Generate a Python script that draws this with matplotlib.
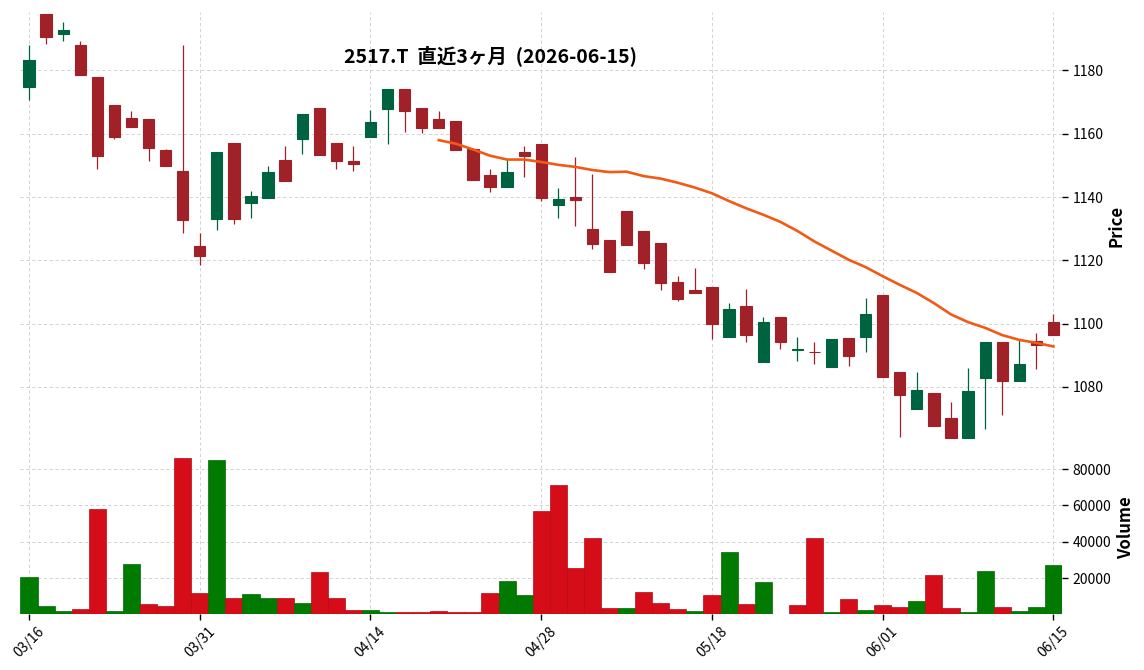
import matplotlib
matplotlib.use("Agg")
import matplotlib.pyplot as plt
from matplotlib.ticker import MultipleLocator
import numpy as np
import pandas as pd

plt.rcParams['font.family'] = ['Noto Sans CJK JP', 'DejaVu Sans']

title = "2517.T  直近3ヶ月  (2026-06-15)"

dates = ["03/16", "03/17", "03/18", "03/19", "03/23", "03/24", "03/25", "03/26", "03/27", "03/30",
         "03/31", "04/01", "04/02", "04/03", "04/06", "04/07", "04/08", "04/09", "04/10", "04/13",
         "04/14", "04/15", "04/16", "04/17", "04/20", "04/21", "04/22", "04/23", "04/24", "04/27",
         "04/28", "04/30", "05/01", "05/07", "05/08", "05/11", "05/12", "05/13", "05/14", "05/15",
         "05/18", "05/19", "05/20", "05/21", "05/22", "05/25", "05/26", "05/27", "05/28", "05/29",
         "06/01", "06/02", "06/03", "06/04", "06/05", "06/08", "06/09", "06/10", "06/11", "06/12",
         "06/15"]

opens = [1174.8, 1197.8, 1191.6, 1188.0, 1177.9, 1169.0, 1165.0, 1164.6, 1154.8, 1148.2,
         1124.5, 1133.0, 1157.0, 1138.2, 1139.7, 1151.7, 1158.4, 1168.1, 1157.0, 1151.4,
         1159.0, 1167.9, 1174.1, 1168.1, 1164.6, 1164.0, 1155.2, 1147.0, 1143.3, 1154.2,
         1156.7, 1137.4, 1140.0, 1129.9, 1126.4, 1135.6, 1129.3, 1125.5, 1113.2, 1110.6,
         1111.6, 1095.9, 1105.6, 1088.0, 1102.1, 1091.7, 1091.1, 1086.4, 1095.5, 1095.9,
         1109.2, 1084.7, 1073.0, 1078.1, 1070.2, 1063.9, 1082.9, 1094.2, 1081.9, 1094.5,
         1100.6]
highs = [1188.0, 1197.8, 1195.2, 1189.2, 1177.9, 1169.0, 1167.2, 1164.6, 1155.2, 1188.0,
         1128.5, 1154.2, 1157.0, 1141.8, 1149.8, 1156.1, 1166.2, 1168.1, 1157.0, 1156.1,
         1167.5, 1174.1, 1174.1, 1168.1, 1167.2, 1164.0, 1155.2, 1149.0, 1151.7, 1156.1,
         1156.7, 1142.7, 1152.5, 1147.2, 1126.4, 1135.6, 1129.3, 1125.5, 1115.0, 1117.5,
         1111.6, 1106.4, 1111.0, 1102.0, 1102.1, 1095.9, 1094.1, 1095.2, 1095.5, 1108.0,
         1109.2, 1084.7, 1084.6, 1078.1, 1075.2, 1086.0, 1094.2, 1094.2, 1095.0, 1096.9,
         1103.0]
lows = [1170.8, 1188.2, 1189.2, 1178.5, 1149.0, 1158.2, 1162.0, 1151.5, 1149.9, 1128.5,
        1118.5, 1129.5, 1131.4, 1133.3, 1139.7, 1145.1, 1153.5, 1153.3, 1149.0, 1148.1,
        1159.0, 1156.6, 1160.4, 1160.2, 1161.7, 1155.0, 1145.5, 1141.7, 1143.3, 1146.3,
        1138.6, 1133.3, 1130.7, 1123.7, 1116.4, 1124.9, 1117.4, 1110.5, 1107.0, 1109.8,
        1095.0, 1095.9, 1094.2, 1088.0, 1091.9, 1088.2, 1087.2, 1086.4, 1086.5, 1090.9,
        1083.2, 1064.3, 1073.0, 1067.8, 1063.9, 1063.9, 1066.6, 1071.0, 1081.9, 1085.6,
        1096.4]
closes = [1183.3, 1190.6, 1192.7, 1178.5, 1153.0, 1159.0, 1162.0, 1155.6, 1149.9, 1132.8,
          1121.5, 1154.2, 1133.0, 1140.3, 1147.9, 1145.1, 1166.2, 1153.3, 1151.5, 1150.4,
          1163.7, 1174.1, 1167.3, 1161.9, 1161.7, 1155.0, 1145.5, 1143.3, 1147.9, 1153.1,
          1139.7, 1139.4, 1139.2, 1125.3, 1116.4, 1124.9, 1119.3, 1112.9, 1107.9, 1109.8,
          1100.0, 1104.6, 1096.5, 1100.5, 1094.3, 1091.9, 1090.9, 1095.2, 1089.8, 1103.1,
          1083.2, 1077.3, 1079.0, 1067.8, 1063.9, 1078.7, 1094.2, 1082.0, 1087.3, 1093.1,
          1096.4]
volumes = [20700, 4900, 2200, 3300, 57800, 2200, 27800, 6000, 4900, 86200,
           12000, 85100, 9300, 11500, 9300, 9300, 6500, 23500, 9300, 2700,
           2700, 1600, 1450, 1450, 2200, 1450, 1450, 12000, 18500, 10900,
           56700, 71400, 25600, 42000, 3800, 3800, 12500, 6500, 3300, 2200,
           10900, 34400, 6000, 18000, np.nan, 5450, 42000, 1450, 8700, 2700,
           5450, 4400, 7600, 21800, 3800, 1450, 24000, 4400, 2200, 4400,
           27300]

mav_window = 25

up_c, down_c = '#006340', '#a02128'
vup_c, vdown_c = '#007a00', '#d50d18'

o = np.array(opens); h = np.array(highs); l = np.array(lows); c = np.array(closes)
v = np.array(volumes, dtype=float)
x = np.arange(len(dates))

fig = plt.figure(figsize=(11.44, 6.70), dpi=100)
ax = fig.add_axes([0.0179, 0.3433, 0.9104, 0.6388])
axv = fig.add_axes([0.0179, 0.0836, 0.9104, 0.2567], sharex=ax)

# candles
is_up = c >= o
ccol = np.where(is_up, up_c, down_c)
ax.vlines(x, l, h, colors=ccol, linewidth=0.9, zorder=2)
ax.bar(x, np.abs(c - o), bottom=np.minimum(o, c), width=0.66, color=ccol,
       edgecolor=ccol, linewidth=0.8, zorder=3)

# moving average
ma = pd.Series(c).rolling(mav_window).mean()
ax.plot(x, ma, color='#f05a14', linewidth=1.9, zorder=4)

# volume, colored by close vs previous close
prev = np.concatenate([[c[0] - 1], c[:-1]])
vcol = np.where(c > prev, vup_c, vdown_c)
vedge = np.where(c > prev, '#006a00', '#b80a14')
axv.bar(x, v, width=1.0, color=vcol, edgecolor=vedge, linewidth=0.5, zorder=3)

rng = h.max() - l.min()
ax.set_ylim(l.min() - 0.005 * rng, h.max() + 0.005 * rng)
axv.set_ylim(0.3 * np.nanmin(v), 1.1 * np.nanmax(v))
ax.set_xlim(-0.5, len(x) - 0.5)

tick_pos = x[::10]
axv.set_xticks(tick_pos)
axv.set_xticklabels([dates[i] for i in tick_pos], rotation=45, ha='center', fontsize=10)
ax.tick_params(axis='x', labelbottom=False, length=0)

ax.yaxis.set_major_locator(MultipleLocator(20))
axv.yaxis.set_major_locator(MultipleLocator(20000))

for a in (ax, axv):
    a.yaxis.tick_right()
    a.yaxis.set_label_position('right')
    a.tick_params(axis='y', labelsize=10, length=4, width=1)
    a.grid(True, linestyle=(0, (4, 3)), color='#cccccc', linewidth=0.6)
    a.set_axisbelow(True)
    for s in a.spines.values():
        s.set_visible(False)
axv.tick_params(axis='x', length=4, width=1)

ax.set_ylabel('Price', fontsize=12, fontweight='bold', labelpad=3)
axv.set_ylabel('Volume', fontsize=12, fontweight='bold', labelpad=4)

fig.text(0.429, 0.9164, title, ha='center', va='center', fontsize=14, fontweight='bold')

fig.savefig('out.png', dpi=100)
